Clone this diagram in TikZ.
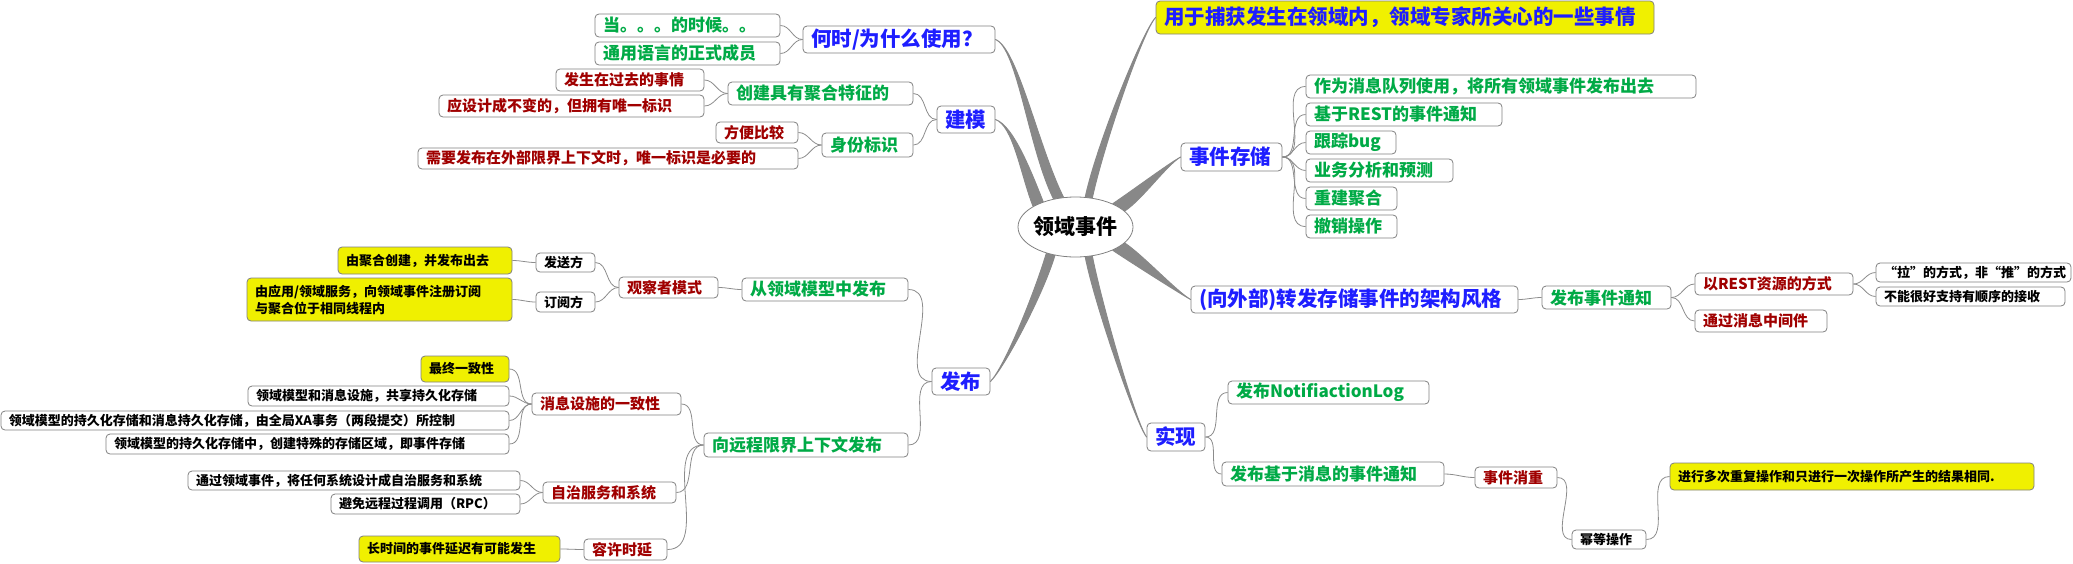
\documentclass[tikz,border=0pt]{standalone}
\usepackage{fontspec}
\setmainfont{Noto Sans CJK SC}
\usetikzlibrary{shapes.geometric,backgrounds}
\definecolor{trunkgray}{RGB}{136,136,136}
\definecolor{linkgray}{RGB}{140,140,140}
\definecolor{boxgray}{RGB}{128,128,128}
\definecolor{hiyellow}{RGB}{240,240,0}
\definecolor{topblue}{RGB}{30,30,255}
\definecolor{subgreen}{RGB}{0,170,70}
\definecolor{leafred}{RGB}{160,0,0}

\begin{document}
\begin{tikzpicture}[x=1pt,y=1pt,
    box/.style={draw=boxgray,line width=0.8pt,rounded corners=4pt,fill=white,inner xsep=8pt,inner ysep=0pt,align=left},
    topic/.style={box,text=topblue,font=\bfseries\fontsize{20.5}{24}\selectfont},
    sub/.style={box,text=subgreen,font=\bfseries\fontsize{17}{20}\selectfont},
    leaf/.style={box,text=leafred,font=\bfseries\fontsize{15}{18}\selectfont},
    note/.style={box,text=black,font=\bfseries\fontsize{13}{17}\selectfont},
    hl/.style={fill=hiyellow},
    trunk/.style={fill=trunkgray,draw=trunkgray,line width=1pt,line join=round},
    lft/.style={draw=linkgray,line width=0.8pt,out=180,in=0},
    rgt/.style={draw=linkgray,line width=0.8pt,out=0,in=180}]

    \useasboundingbox (0,0) rectangle (2073,-563);

    \node[draw=boxgray,line width=0.8pt,fill=white,ellipse,minimum width=115pt,minimum height=60pt,
          inner xsep=-4pt,inner ysep=0pt,font=\bfseries\fontsize{21}{24}\selectfont] (core) at (1075.5,-227) {领域事件};

    % modelling
    \node[topic,text width=176pt,minimum height=27pt] (when) at (899,-39.5) {何时/为什么使用？};
    \node[sub,text width=169pt,minimum height=23pt] (whena) at (687.5,-25.5) {当。。。的时候。。};
    \node[sub,text width=169pt,minimum height=23pt] (whenb) at (687.5,-53.5) {通用语言的正式成员};
    \node[topic,text width=42pt,minimum height=27pt] (model) at (966,-119.5) {建模};
    \node[sub,text width=169pt,minimum height=23pt] (aggr) at (820.5,-93.5) {创建具有聚合特征的};
    \node[leaf,text width=132pt,minimum height=22pt] (past) at (630,-80) {发生在过去的事情};
    \node[leaf,text width=249pt,minimum height=22pt] (immut) at (571.5,-106) {应设计成不变的，但拥有唯一标识};
    \node[sub,text width=75pt,minimum height=24pt] (ident) at (867.5,-145) {身份标识};
    \node[leaf,text width=66pt,minimum height=21pt] (compare) at (757,-132.5) {方便比较};
    \node[leaf,text width=364pt,minimum height=21pt] (needid) at (608,-158.5) {需要发布在外部限界上下文时，唯一标识是必要的};

    % publishing
    \node[topic,text width=42pt,minimum height=27pt] (pub) at (961,-381.5) {发布};
    \node[sub,text width=150pt,minimum height=23pt] (local) at (825,-289.5) {从领域模型中发布};
    \node[leaf,text width=83pt,minimum height=21pt] (observer) at (668.5,-287.5) {观察者模式};
    \node[note,text width=43pt,minimum height=19pt] (sender) at (565.5,-262.5) {发送方};
    \node[note,text width=43pt,minimum height=20pt] (subscr) at (565.5,-302) {订阅方};
    \node[note,hl,text width=158pt,minimum height=27pt] (bycreate) at (425,-260.5) {由聚合创建，并发布出去};
    \node[note,hl,text width=249pt,minimum height=43pt] (bysub) at (379.5,-299.5) {由应用/领域服务，向领域事件注册订阅\\与聚合位于相同线程内};
    \node[sub,text width=188pt,minimum height=24pt] (remote) at (806,-445) {向远程限界上下文发布};
    \node[leaf,text width=133pt,minimum height=22pt] (consist) at (606.5,-404) {消息设施的一致性};
    \node[note,hl,text width=72pt,minimum height=26pt] (eventual) at (465,-369) {最终一致性};
    \node[note,text width=245pt,minimum height=20pt] (shared) at (378.5,-396) {领域模型和消息设施，共享持久化存储};
    \node[note,text width=492pt,minimum height=19pt] (xa) at (255,-420.5) {领域模型的持久化存储和消息持久化存储，由全局XA事务（两段提交）所控制};
    \node[note,text width=387pt,minimum height=20pt] (special) at (307.5,-444) {领域模型的持久化存储中，创建特殊的存储区域，即事件存储};
    \node[leaf,text width=117pt,minimum height=21pt] (auton) at (609.5,-492.5) {自治服务和系统};
    \node[note,text width=316pt,minimum height=19pt] (design) at (354,-480.5) {通过领域事件，将任何系统设计成自治服务和系统};
    \node[note,text width=173pt,minimum height=20pt] (norpc) at (425.5,-504) {避免远程过程调用（RPC）};
    \node[leaf,text width=67pt,minimum height=21pt] (latency) at (625.5,-549.5) {容许时延};
    \node[note,hl,text width=185pt,minimum height=26pt] (longdelay) at (459.5,-549) {长时间的事件延迟有可能发生};

    % purpose and event store
    \node[topic,hl,text width=482pt,minimum height=33pt] (fact) at (1405,-17.5) {用于捕获发生在领域内，领域专家所关心的一些事情};
    \node[topic,text width=85pt,minimum height=28pt] (store) at (1231.5,-157) {事件存储};
    \node[sub,text width=374pt,minimum height=23pt] (queue) at (1501,-86.5) {作为消息队列使用，将所有领域事件发布出去};
    \node[sub,text width=180pt,minimum height=23pt] (rest) at (1404,-114.5) {基于REST的事件通知};
    \node[sub,text width=74pt,minimum height=23pt] (bug) at (1351,-142.5) {跟踪bug};
    \node[sub,text width=131pt,minimum height=23pt] (forecast) at (1379.5,-170.5) {业务分析和预测};
    \node[sub,text width=75pt,minimum height=23pt] (rebuild) at (1351.5,-198.5) {重建聚合};
    \node[sub,text width=75pt,minimum height=23pt] (undo) at (1351.5,-226.5) {撤销操作};

    % forwarding
    \node[topic,text width=311pt,minimum height=27pt] (ext) at (1354.5,-299.5) {(向外部)转发存储事件的架构风格};
    \node[sub,text width=113pt,minimum height=23pt] (notify) at (1606.5,-297.5) {发布事件通知};
    \node[leaf,text width=142pt,minimum height=22pt] (restres) at (1774,-284) {以REST资源的方式};
    \node[leaf,text width=116pt,minimum height=22pt] (mware) at (1761,-321) {通过消息中间件};
    \node[note,text width=179pt,minimum height=19pt] (pull) at (1973.5,-272.5) {“拉”的方式，非“推”的方式};
    \node[note,text width=173pt,minimum height=19pt] (order) at (1970.5,-296.5) {不能很好支持有顺序的接收};

    % implementation
    \node[topic,text width=42pt,minimum height=28pt] (impl) at (1176,-437) {实现};
    \node[sub,text width=185pt,minimum height=23pt] (nlog) at (1328.5,-392.5) {发布NotifiactionLog};
    \node[sub,text width=206pt,minimum height=24pt] (msgpub) at (1333,-474) {发布基于消息的事件通知};
    \node[leaf,text width=66pt,minimum height=21pt] (dedup) at (1516,-477.5) {事件消重};
    \node[note,text width=58pt,minimum height=19pt] (idem) at (1609,-539.5) {幂等操作};
    \node[note,hl,text width=348pt,minimum height=27pt] (idemdef) at (1852,-476.5) {进行多次重复操作和只进行一次操作所产生的结果相同.};

    % thick branches from the centre
    \begin{scope}[on background layer]
    \filldraw[trunk] (core.112) .. controls +(-25,50) and +(22,-8) .. (when.east) .. controls +(22,-8) and +(-25,50) .. (core.128) -- cycle;
    \filldraw[trunk] (core.142) .. controls +(-12,30) and +(18,-6) .. (model.east) .. controls +(18,-6) and +(-12,30) .. (core.154) -- cycle;
    \filldraw[trunk] (core.222) .. controls +(-12,-40) and +(14,14) .. (pub.east) .. controls +(14,14) and +(-12,-40) .. (core.234) -- cycle;
    \filldraw[trunk] (core.60) .. controls +(12,55) and +(-12,-12) .. (fact.west) .. controls +(-12,-12) and +(12,55) .. (core.72) -- cycle;
    \filldraw[trunk] (core.18) .. controls +(18,12) and +(-14,-8) .. (store.west) .. controls +(-14,-8) and +(18,12) .. (core.32) -- cycle;
    \filldraw[trunk] (core.-18) .. controls +(18,-12) and +(-14,8) .. (ext.west) .. controls +(-14,8) and +(18,-12) .. (core.-32) -- cycle;
    \filldraw[trunk] (core.-72) .. controls +(10,-50) and +(-10,12) .. (impl.west) .. controls +(-10,12) and +(10,-50) .. (core.-60) -- cycle;
    \end{scope}

    % thin links, left side
    \draw[lft] (when.west) to (whena.east);
    \draw[lft] (when.west) to (whenb.east);
    \draw[lft] (model.west) to (aggr.east);
    \draw[lft] (model.west) to (ident.east);
    \draw[lft] (aggr.west) to (past.east);
    \draw[lft] (aggr.west) to (immut.east);
    \draw[lft] (ident.west) to (compare.east);
    \draw[lft] (ident.west) to (needid.east);
    \draw[lft] (pub.west) to (local.east);
    \draw[lft] (pub.west) to (remote.east);
    \draw[lft] (local.west) to (observer.east);
    \draw[lft] (observer.west) to (sender.east);
    \draw[lft] (observer.west) to (subscr.east);
    \draw[lft] (sender.west) to (bycreate.east);
    \draw[lft] (subscr.west) to (bysub.east);
    \draw[lft] (remote.west) to (consist.east);
    \draw[lft] (remote.west) to (auton.east);
    \draw[lft] (remote.west) to (latency.east);
    \draw[lft] (consist.west) to (eventual.east);
    \draw[lft] (consist.west) to (shared.east);
    \draw[lft] (consist.west) to (xa.east);
    \draw[lft] (consist.west) to (special.east);
    \draw[lft] (auton.west) to (design.east);
    \draw[lft] (auton.west) to (norpc.east);
    \draw[lft] (latency.west) to (longdelay.east);

    % thin links, right side
    \draw[rgt] (store.east) to (queue.west);
    \draw[rgt] (store.east) to (rest.west);
    \draw[rgt] (store.east) to (bug.west);
    \draw[rgt] (store.east) to (forecast.west);
    \draw[rgt] (store.east) to (rebuild.west);
    \draw[rgt] (store.east) to (undo.west);
    \draw[rgt] (ext.east) to (notify.west);
    \draw[rgt] (notify.east) to (restres.west);
    \draw[rgt] (notify.east) to (mware.west);
    \draw[rgt] (restres.east) to (pull.west);
    \draw[rgt] (restres.east) to (order.west);
    \draw[rgt] (impl.east) to (nlog.west);
    \draw[rgt] (impl.east) to (msgpub.west);
    \draw[rgt] (msgpub.east) to (dedup.west);
    \draw[rgt] (dedup.east) to (idem.west);
    \draw[rgt] (idem.east) to (idemdef.west);

\end{tikzpicture}
\end{document}
